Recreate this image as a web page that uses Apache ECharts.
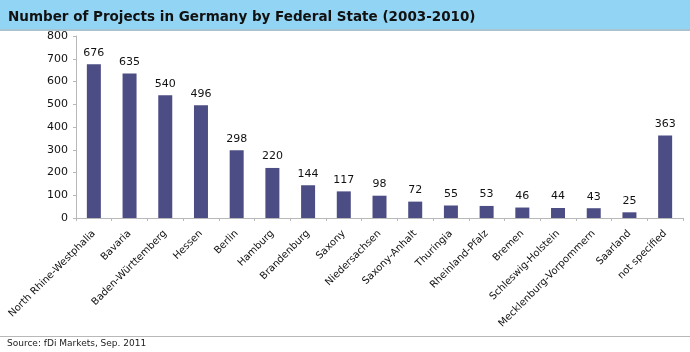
<!DOCTYPE html>
<html>
<head>
<meta charset="utf-8">
<script src="https://cdn.jsdelivr.net/npm/echarts@6/dist/echarts.min.js"></script>
<style>
  html, body { margin: 0; padding: 0; background: #fff; }
  #chart { width: 690px; height: 352px; }
</style>
</head>
<body>
<div id="chart"></div>
<script>
var states = ['North Rhine-Westphalia', 'Bavaria', 'Baden-Württemberg', 'Hessen', 'Berlin',
  'Hamburg', 'Brandenburg', 'Saxony', 'Niedersachsen', 'Saxony-Anhalt', 'Thuringia',
  'Rheinland-Pfalz', 'Bremen', 'Schleswig-Holstein', 'Mecklenburg-Vorpommern', 'Saarland',
  'not specified'];
var projects = [676, 635, 540, 496, 298, 220, 144, 117, 98, 72, 55, 53, 46, 44, 43, 25, 363];

var myChart = echarts.init(document.getElementById('chart'));
var option = {
  backgroundColor: '#fff',
  animation: false,
  title: {
    text: 'Number of Projects in Germany by Federal State (2003-2010)',
    left: 3,
    top: 5,
    textStyle: {
      fontFamily: 'DejaVu Sans',
      fontWeight: 'bold',
      fontSize: 13.5,
      color: '#111'
    }
  },
  graphic: [
    {type: 'rect', z: -1, shape: {x: 0, y: 0, width: 690, height: 29}, style: {fill: '#92d4f3'}},
    {type: 'rect', z: -1, shape: {x: 0, y: 29, width: 690, height: 2}, style: {fill: '#a9c3d0'}},
    {type: 'rect', shape: {x: 0, y: 336, width: 690, height: 1}, style: {fill: '#b8b8b8'}},
    {type: 'text', left: 7, top: 339,
      style: {text: 'Source: fDi Markets, Sep. 2011', font: '9px "DejaVu Sans"', fill: '#222'}}
  ],
  grid: {left: 76, right: 7, top: 36, bottom: 134},
  xAxis: {
    type: 'category',
    data: states,
    axisLine: {lineStyle: {color: '#b8b8b8'}},
    axisTick: {show: true, length: 3, lineStyle: {color: '#b8b8b8'}},
    axisLabel: {
      interval: 0,
      rotate: 45,
      margin: 14,
      fontFamily: 'DejaVu Sans',
      fontSize: 10,
      color: '#111'
    }
  },
  yAxis: {
    type: 'value',
    min: 0,
    max: 800,
    interval: 100,
    axisLine: {show: true, lineStyle: {color: '#b8b8b8'}},
    axisTick: {show: true, length: 3, lineStyle: {color: '#b8b8b8'}},
    splitLine: {show: false},
    axisLabel: {fontFamily: 'DejaVu Sans', fontSize: 11, color: '#111', margin: 8}
  },
  series: [{
    type: 'bar',
    data: projects,
    barWidth: 14,
    itemStyle: {color: '#4d4d85'},
    label: {
      show: true,
      position: 'top',
      distance: 6,
      fontFamily: 'DejaVu Sans',
      fontSize: 11,
      color: '#111'
    }
  }]
};
myChart.setOption(option);
</script>
</body>
</html>
